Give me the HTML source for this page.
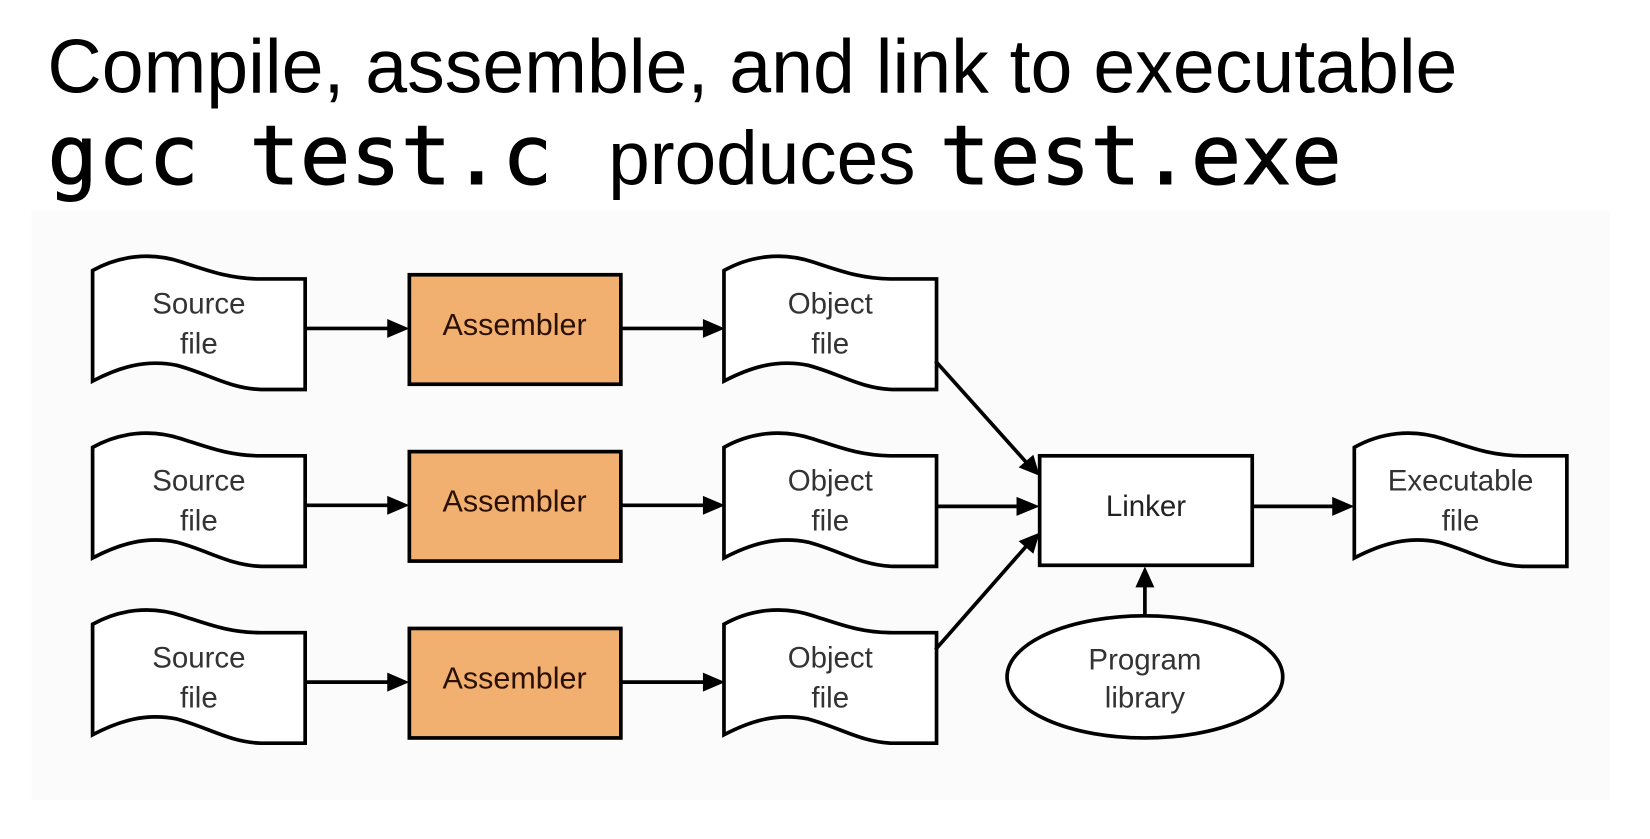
<!DOCTYPE html>
<html><head><meta charset="utf-8"><style>
html,body{margin:0;padding:0;background:#fff;}
svg{display:block;}
</style></head><body>
<svg width="1650" height="839" viewBox="0 0 1568 797" preserveAspectRatio="none" xmlns="http://www.w3.org/2000/svg">
<defs>
<path id="doc" d="M0,12 C25,-2 55,-6 85,4 C110,12 130,20 160,20 L202,20 L202,125 L160,125 C130,124 110,110 80,102 C50,96 25,104 0,117 Z" fill="#fff" stroke="#000" stroke-width="3.5"/>
</defs>
<rect width="1568" height="797" fill="#fff"/>
<rect x="30" y="200" width="1500" height="560" fill="#fbfbfb"/>
<text x="45" y="88" font-family="Liberation Sans, sans-serif" font-size="72" textLength="1340" lengthAdjust="spacingAndGlyphs" fill="#000">Compile, assemble, and link to executable</text>
<text x="45" y="175" font-family="DejaVu Sans Mono, monospace" font-size="78" textLength="480" lengthAdjust="spacingAndGlyphs" fill="#000" stroke="#000" stroke-width="1">gcc test.c</text>
<text x="578" y="175" font-family="Liberation Sans, sans-serif" font-size="72" textLength="292" lengthAdjust="spacingAndGlyphs" fill="#000">produces</text>
<text x="893" y="175" font-family="DejaVu Sans Mono, monospace" font-size="78" textLength="382" lengthAdjust="spacingAndGlyphs" fill="#000" stroke="#000" stroke-width="1">test.exe</text>

<g font-family="Liberation Sans, sans-serif" font-size="28" text-anchor="middle">
<g id="row">
<use href="#doc" x="88" y="245"/>
<text x="189" y="298" fill="#333">Source</text>
<text x="189" y="336" fill="#333">file</text>
<rect x="389" y="261" width="201" height="104" fill="#f2b070" stroke="#000" stroke-width="3.5"/>
<text x="489" y="318" fill="#2a1000" font-size="29">Assembler</text>
<use href="#doc" x="688" y="245"/>
<text x="789" y="298" fill="#333">Object</text>
<text x="789" y="336" fill="#333">file</text>
<line x1="290" y1="312" x2="370" y2="312" stroke="#000" stroke-width="3.5"/>
<polygon points="368,303 389,312 368,321" fill="#000"/>
<line x1="590" y1="312" x2="670" y2="312" stroke="#000" stroke-width="3.5"/>
<polygon points="668,303 689,312 668,321" fill="#000"/>
</g>
<use href="#row" y="168"/>
<use href="#row" y="336"/>

<rect x="988" y="433" width="202" height="104" fill="#fff" stroke="#000" stroke-width="3.5"/>
<text x="1089" y="490" fill="#222">Linker</text>
<use href="#doc" x="1287" y="413"/>
<text x="1388" y="466" fill="#333">Executable</text>
<text x="1388" y="504" fill="#333">file</text>
<ellipse cx="1088" cy="643" rx="131" ry="58" fill="#fff" stroke="#000" stroke-width="3.5"/>
<text x="1088" y="636" fill="#333">Program</text>
<text x="1088" y="672" fill="#333">library</text>
</g>

<g stroke="#000" stroke-width="3.5">
<line x1="889" y1="343" x2="976" y2="440"/>
<line x1="889" y1="481" x2="968" y2="481"/>
<line x1="889" y1="617" x2="976" y2="518"/>
<line x1="1190" y1="481" x2="1268" y2="481"/>
<line x1="1088" y1="585" x2="1088" y2="555"/>
</g>
<g fill="#000">
<polygon points="988,452 968,444 982,432"/>
<polygon points="966,472 988,481 966,490"/>
<polygon points="988,506 982,526 968,514"/>
<polygon points="1266,472 1287,481 1266,490"/>
<polygon points="1079,558 1088,538 1097,558"/>
</g>
</svg>
</body></html>
